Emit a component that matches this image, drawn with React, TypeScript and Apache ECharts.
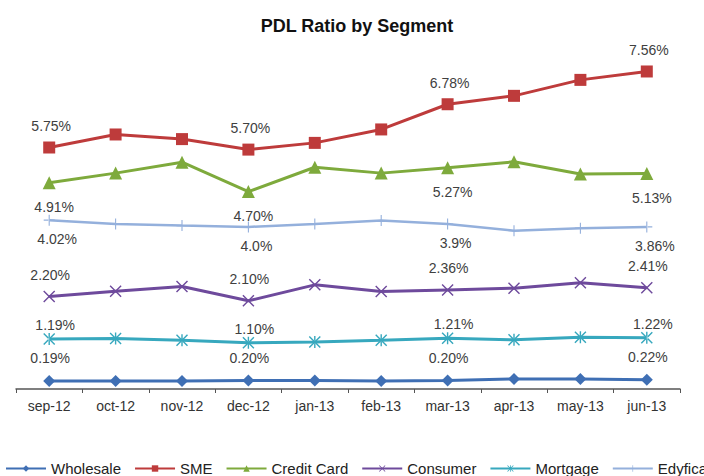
import React, { useEffect, useRef } from "react";
import * as echarts from "echarts";

const categories = ["sep-12", "oct-12", "nov-12", "dec-12", "jan-13", "feb-13", "mar-13", "apr-13", "may-13", "jun-13"];

const wholesale = [0.19, 0.19, 0.19, 0.2, 0.2, 0.19, 0.2, 0.24, 0.24, 0.22];
const sme = [5.75, 6.06, 5.95, 5.7, 5.86, 6.18, 6.78, 6.98, 7.36, 7.56];
const creditCard = [4.91, 5.14, 5.4, 4.7, 5.28, 5.14, 5.27, 5.41, 5.12, 5.13];
const consumer = [2.2, 2.33, 2.44, 2.1, 2.48, 2.32, 2.36, 2.4, 2.53, 2.41];
const mortgage = [1.19, 1.2, 1.16, 1.1, 1.12, 1.16, 1.21, 1.17, 1.23, 1.22];
const edyficar = [4.02, 3.93, 3.89, 3.86, 3.93, 4.01, 3.93, 3.77, 3.83, 3.86];

const wholesaleLabels = ["0.19%", "", "", "0.20%", "", "", "0.20%", "", "", "0.22%"];
const smeLabels = ["5.75%", "", "", "5.70%", "", "", "6.78%", "", "", "7.56%"];
const creditCardLabels = ["4.91%", "", "", "4.70%", "", "", "5.27%", "", "", "5.13%"];
const consumerLabels = ["2.20%", "", "", "2.10%", "", "", "2.36%", "", "", "2.41%"];
const mortgageLabels = ["1.19%", "", "", "1.10%", "", "", "1.21%", "", "", "1.22%"];
const edyficarLabels = ["4.02%", "", "", "4.0%", "", "", "3.9%", "", "", "3.86%"];

const FONT = "'Liberation Sans', Arial, sans-serif";

const X_SYM = "path://M0,1 L1,0 L6,5 L11,0 L12,1 L7,6 L12,11 L11,12 L6,7 L1,12 L0,11 L5,6 Z";
const AST_SYM =
  "path://M0,1 L1,0 L6,5 L11,0 L12,1 L7,6 L12,11 L11,12 L6,7 L1,12 L0,11 L5,6 Z M5.3,0 L5.3,12 L6.7,12 L6.7,0 Z";
const PLUS_SYM = "path://M5.4,0 L6.6,0 L6.6,12 L5.4,12 Z M0,5.4 L0,6.6 L12,6.6 L12,5.4 Z";

export default function App() {
  const ref = useRef<HTMLDivElement>(null);

  useEffect(() => {
    if (!ref.current) return;
    const chart = echarts.init(ref.current, null, { renderer: "svg" });

    const mk = (
      name: string,
      data: number[],
      labels: string[],
      color: string,
      symbol: string,
      symbolSize: number,
      offset: number[],
      width = 3
    ) => ({
      name,
      type: "line",
      data,
      symbol,
      symbolSize,
      showAllSymbol: true,
      lineStyle: { color, width },
      itemStyle: { color, borderWidth: 0 },
      label: {
        show: true,
        position: "inside",
        offset,
        color: "#404040",
        fontSize: 14,
        fontFamily: FONT,
        formatter: (p: any) => labels[p.dataIndex],
      },
      emphasis: { disabled: true },
    });

    chart.setOption({
      animation: false,
      backgroundColor: "#ffffff",
      title: {
        text: "PDL Ratio by Segment",
        left: 352,
        textAlign: "center",
        top: 12,
        textStyle: { fontFamily: FONT, fontSize: 18, fontWeight: "bold", color: "#111111" },
      },
      legend: {
        left: 0,
        top: 456,
        width: 1200,
        itemWidth: 40,
        itemHeight: 8,
        itemGap: 13,
        textStyle: { fontFamily: FONT, fontSize: 15, color: "#222222" },
        data: ["Wholesale", "SME", "Credit Card", "Consumer", "Mortgage", "Edyficar"],
      },
      grid: { left: 16, right: 24, top: 53, bottom: 87 },
      xAxis: {
        type: "category",
        data: categories,
        boundaryGap: true,
        axisLine: { lineStyle: { color: "#555555", width: 1.5 } },
        axisTick: { show: true, length: 4, lineStyle: { color: "#555555" } },
        axisLabel: { fontFamily: FONT, fontSize: 14, color: "#333333", margin: 10 },
      },
      yAxis: {
        type: "value",
        min: 0,
        max: 8,
        show: false,
        splitLine: { show: false },
      },
      series: [
        mk("Wholesale", wholesale, wholesaleLabels, "#3F6FB4", "diamond", 12, [1, -23]),
        mk("SME", sme, smeLabels, "#BE3B3B", "rect", 12, [2, -21.5]),
        mk("Credit Card", creditCard, creditCardLabels, "#7EAA3C", "triangle", 13, [5, 24]),
        mk("Consumer", consumer, consumerLabels, "#6E4A9C", X_SYM, 12, [1, -21.5]),
        mk("Mortgage", mortgage, mortgageLabels, "#37A8BE", AST_SYM, 12, [6, -14]),
        mk("Edyficar", edyficar, edyficarLabels, "#94B0DC", PLUS_SYM, 11, [8, 19], 2.5),
      ],
    });

    return () => chart.dispose();
  }, []);

  return (
    <div
      ref={ref}
      style={{ position: "absolute", left: 0, top: 0, width: 704, height: 476 }}
    />
  );
}
